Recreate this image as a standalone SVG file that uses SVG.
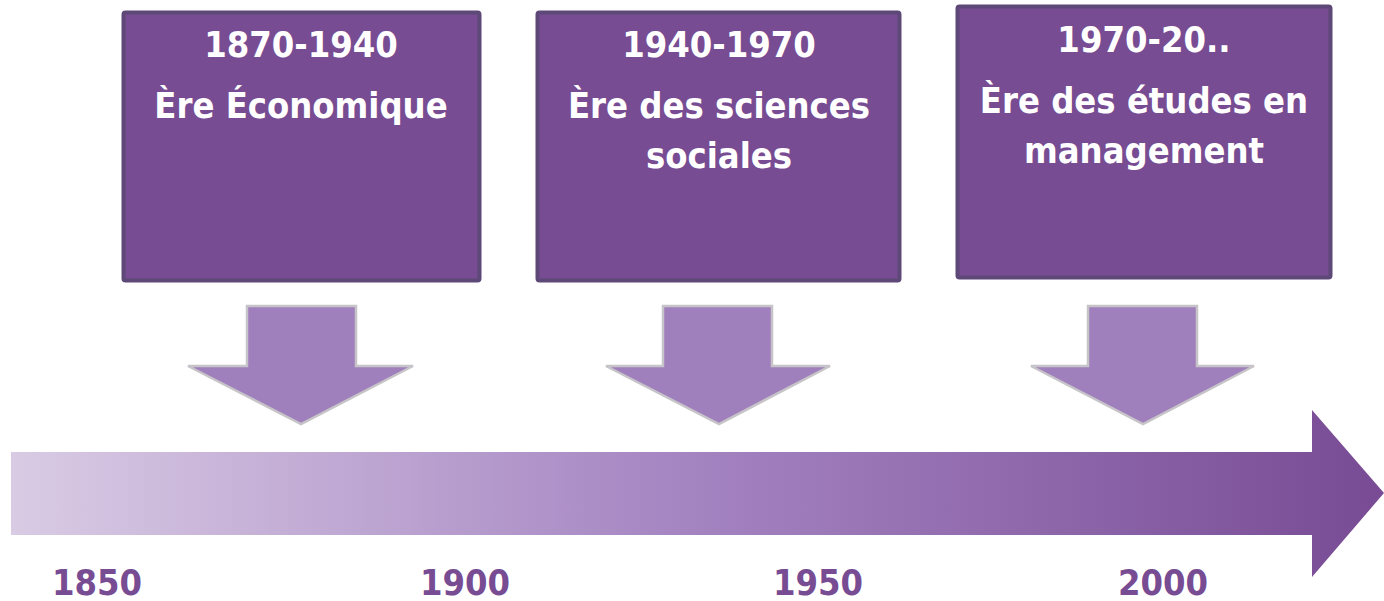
<svg xmlns="http://www.w3.org/2000/svg" width="1384" height="601" viewBox="0 0 1384 601">
<style>
.box{fill:#774c93;stroke:#5e4878;stroke-width:4}
.t{font-family:"DejaVu Sans Condensed","DejaVu Sans",sans-serif;font-weight:bold;font-size:36px;fill:#ffffff;text-anchor:middle}
.yr{font-family:"DejaVu Sans Condensed","DejaVu Sans",sans-serif;font-weight:bold;font-size:36px;fill:#774c93;text-anchor:middle}
.dn{fill:#a07fbd;stroke:#c6c4c8;stroke-width:2.5}
</style>
<defs>
<linearGradient id="g" x1="11" y1="0" x2="1384" y2="0" gradientUnits="userSpaceOnUse">
<stop offset="0" stop-color="#d9cbe4"/>
<stop offset="0.5" stop-color="#a483c1"/>
<stop offset="1" stop-color="#784b94"/>
</linearGradient>
</defs>
<g id="timeline">
<path d="M11,452 H1312 V410 L1384,493 L1312,577 V535 H11 Z" fill="url(#g)"/>
</g>
<g id="box1">
<rect class="box" x="123.5" y="12.5" width="356" height="268" rx="2"/>
<text class="t" x="301" y="57">1870-1940</text>
<text class="t" x="301" y="118">Ère Économique</text>
</g>
<g id="box2">
<rect class="box" x="537.5" y="12.5" width="362" height="268" rx="2"/>
<text class="t" x="719" y="57">1940-1970</text>
<text class="t" x="719" y="118">Ère des sciences</text>
<text class="t" x="719" y="168">sociales</text>
</g>
<g id="box3">
<rect class="box" x="957.5" y="6.5" width="373" height="271" rx="2"/>
<text class="t" x="1144" y="52">1970-20..</text>
<text class="t" x="1144" y="113">Ère des études en</text>
<text class="t" x="1144" y="163">management</text>
</g>
<g id="connectors">
<path class="dn" d="M247,306 H356 V366 H413 L301,424 L188,366 H247 Z"/>
<path class="dn" d="M663,306 H772 V366 H830 L719,424 L606,366 H663 Z"/>
<path class="dn" d="M1088,306 H1197 V366 H1254 L1143,424 L1031,366 H1088 Z"/>
</g>
<g id="years">
<text class="yr" x="97" y="595">1850</text>
<text class="yr" x="465" y="595">1900</text>
<text class="yr" x="818" y="595">1950</text>
<text class="yr" x="1163" y="595">2000</text>
</g>
</svg>
